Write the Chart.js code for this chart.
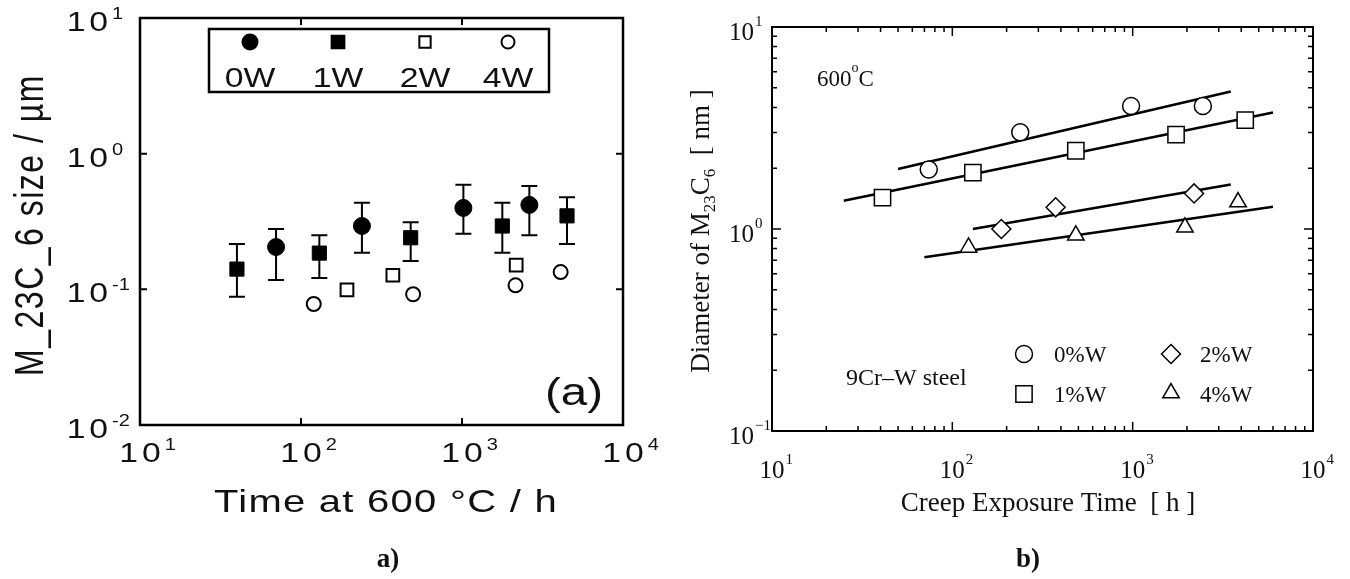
<!DOCTYPE html>
<html>
<head>
<meta charset="utf-8">
<title>M23C6 carbide size</title>
<script src="https://cdn.jsdelivr.net/npm/chart.js@4.4.1/dist/chart.umd.min.js"></script>
<style>
  html, body { margin: 0; padding: 0; background: #fff; }
  #page { position: relative; width: 1350px; height: 579px; overflow: hidden; }
  canvas { position: absolute; top: 0; width: 675px; height: 579px; }
  #chartA { left: 0; }
  #chartB { left: 675px; }
</style>
</head>
<body>
<div id="page">
  <canvas id="chartA" width="675" height="579"></canvas>
  <canvas id="chartB" width="675" height="579"></canvas>
</div>
<script>
// (a) M23C6 size vs time at 600 C, with error bars for 0W / 1W
const time0W = [70, 239, 1020, 2620];
const size0W = [0.205, 0.293, 0.398, 0.419];
const low0W = [0.117, 0.186, 0.257, 0.25];
const high0W = [0.278, 0.434, 0.589, 0.578];
const time1W = [40, 130, 480, 1780, 4490];
const size1W = [0.141, 0.185, 0.24, 0.293, 0.348];
const low1W = [0.088, 0.121, 0.162, 0.186, 0.216];
const high1W = [0.216, 0.25, 0.312, 0.434, 0.478];
const time2W = [193, 372, 2170];
const size2W = [0.099, 0.127, 0.151];
const time4W = [120, 497, 2150, 4100];
const size4W = [0.078, 0.092, 0.107, 0.134];
const legendA = ['0W', '1W', '2W', '4W'];

// (b) diameter vs creep exposure time, 9Cr-W steel
const creep0 = [74, 238, 980, 2450];
const diam0 = [1.97, 3.01, 4.06, 4.06];
const creep1 = [41, 130, 484, 1740, 4210];
const diam1 = [1.43, 1.9, 2.44, 2.93, 3.46];
const creep2 = [187, 374, 2190];
const diam2 = [1.0, 1.28, 1.5];
const creep4 = [123, 484, 1950, 3840];
const diam4 = [0.81, 0.93, 1.02, 1.36];
const fitTime0 = [50, 3500];
const fitDiam0 = [1.98, 4.79];
const fitTime1 = [25, 6000];
const fitDiam1 = [1.38, 3.77];
const fitTime2 = [130, 3500];
const fitDiam2 = [1.0, 1.66];
const fitTime4 = [70, 6000];
const fitDiam4 = [0.724, 1.29];
const legendB = ['0%W', '1%W', '2%W', '4%W'];

// axis ticks
const decadesX = [10, 100, 1000, 10000];
const expX = ['1', '2', '3', '4'];
const decadesYA = [0.01, 0.1, 1, 10];
const expYA = ['-2', '-1', '0', '1'];
const decadesYB = [0.1, 1, 10];
const expYB = ['\u22121', '0', '1'];

const INK = '#111';
const SANS = '"Liberation Sans", Arial, sans-serif';
const SERIF = '"Liberation Serif", "Times New Roman", serif';
const STRETCH_A = 1.25; // lettering on (a) is set wide

function pts(xs, ys) {
  return xs.map((x, i) => ({ x, y: ys[i] }));
}

function drawText(ctx, str, x, y, o) {
  ctx.save();
  ctx.translate(x, y);
  ctx.scale(o.sx || 1, 1);
  if (o.rotate) ctx.rotate(-Math.PI / 2);
  ctx.font = o.font;
  ctx.letterSpacing = (o.sp || 0) + 'px';
  ctx.textAlign = o.align || 'left';
  ctx.textBaseline = o.baseline || 'alphabetic';
  ctx.fillStyle = INK;
  ctx.fillText(str, 0, 0);
  ctx.restore();
}

// "10" with a raised exponent
function powLabel(ctx, exp, x, y, o) {
  const k = o.sx || 1;
  ctx.save();
  ctx.font = o.base;
  const bw = (ctx.measureText('10').width + (o.sp || 0)) * k;
  ctx.restore();
  const x0 = o.align === 'baseRight' ? x - bw : x - bw / 2;
  drawText(ctx, '10', x0, y, { font: o.base, sx: k, sp: o.sp });
  drawText(ctx, exp, x0 + bw + o.gap, y - o.rise, { font: o.sup, sx: k });
}

function marker(ctx, style, x, y, radius, filled, lw) {
  ctx.save();
  ctx.fillStyle = filled ? '#000' : '#fff';
  ctx.strokeStyle = '#000';
  ctx.lineWidth = lw;
  Chart.helpers.drawPoint(ctx, { pointStyle: style, radius, borderWidth: lw, rotation: 0 }, x, y);
  ctx.restore();
}

const errorBars = {
  id: 'errorBars',
  beforeDatasetsDraw(chart) {
    const { ctx, scales: { x, y } } = chart;
    ctx.save();
    ctx.strokeStyle = '#000';
    ctx.lineWidth = 2;
    chart.data.datasets.forEach((ds) => {
      if (!ds.errLow) return;
      ds.data.forEach((p, i) => {
        const px = x.getPixelForValue(p.x);
        const top = y.getPixelForValue(ds.errHigh[i]);
        const bottom = y.getPixelForValue(ds.errLow[i]);
        ctx.beginPath();
        ctx.moveTo(px, top); ctx.lineTo(px, bottom);
        ctx.moveTo(px - 8, top); ctx.lineTo(px + 8, top);
        ctx.moveTo(px - 8, bottom); ctx.lineTo(px + 8, bottom);
        ctx.stroke();
      });
    });
    ctx.restore();
  }
};

const frameA = {
  id: 'frameA',
  afterDraw(chart) {
    const { ctx, chartArea: a, scales: { x, y } } = chart;
    ctx.save();
    ctx.strokeStyle = '#000';
    ctx.lineWidth = 2.5;
    ctx.strokeRect(a.left, a.top, a.right - a.left, a.bottom - a.top);
    ctx.lineWidth = 2;
    ctx.beginPath();
    decadesX.forEach((v) => {
      const px = x.getPixelForValue(v);
      ctx.moveTo(px, a.top); ctx.lineTo(px, a.top + 7);
      ctx.moveTo(px, a.bottom); ctx.lineTo(px, a.bottom - 7);
    });
    decadesYA.forEach((v) => {
      const py = y.getPixelForValue(v);
      ctx.moveTo(a.left, py); ctx.lineTo(a.left + 7, py);
      ctx.moveTo(a.right, py); ctx.lineTo(a.right - 7, py);
    });
    ctx.stroke();

    const lab = { base: `27px ${SANS}`, sup: `16px ${SANS}`, sx: STRETCH_A, sp: 3, gap: 4, rise: 12 };
    decadesX.forEach((v, i) => {
      powLabel(ctx, expX[i], x.getPixelForValue(v), a.bottom + 37, { ...lab, align: 'baseCenter' });
    });
    decadesYA.forEach((v, i) => {
      powLabel(ctx, expYA[i], a.left - 32, y.getPixelForValue(v) + 13, { ...lab, align: 'baseRight' });
    });

    drawText(ctx, 'Time at 600 \u00b0C / h', 386, 512,
      { font: `32px ${SANS}`, sx: STRETCH_A, sp: 1, align: 'center' });
    drawText(ctx, 'M_23C_6 size / \u00b5m', 43, 225,
      { font: `32px ${SANS}`, sx: STRETCH_A, sp: 1.5, align: 'center', rotate: true });
    drawText(ctx, '(a)', 603, 405, { font: `38px ${SANS}`, sx: STRETCH_A, align: 'right' });

    // legend box
    ctx.lineWidth = 2.5;
    ctx.strokeRect(209, 29, 340, 63);
    const slots = [250, 338, 425, 508];
    const styles = [['circle', 7.5, true], ['rect', 9, true], ['rect', 8, false], ['circle', 6.5, false]];
    legendA.forEach((name, i) => {
      marker(ctx, styles[i][0], slots[i], 42, styles[i][1], styles[i][2], 2);
      drawText(ctx, name, slots[i], 87, { font: `27px ${SANS}`, sx: STRETCH_A, align: 'center' });
    });

    drawText(ctx, 'a)', 388, 567, { font: `bold 27px ${SERIF}`, align: 'center' });
    ctx.restore();
  }
};

const frameB = {
  id: 'frameB',
  afterDraw(chart) {
    const { ctx, chartArea: a, scales: { x, y } } = chart;
    ctx.save();
    ctx.strokeStyle = '#000';
    ctx.lineWidth = 2;
    ctx.strokeRect(a.left, a.top, a.right - a.left, a.bottom - a.top);
    ctx.lineWidth = 1.5;
    ctx.beginPath();
    const minors = [2, 3, 4, 5, 6, 7, 8, 9];
    decadesX.forEach((v, d) => {
      const px = x.getPixelForValue(v);
      ctx.moveTo(px, a.top); ctx.lineTo(px, a.top + 9);
      ctx.moveTo(px, a.bottom); ctx.lineTo(px, a.bottom - 9);
      if (d === decadesX.length - 1) return;
      minors.forEach((m) => {
        const qx = x.getPixelForValue(v * m);
        ctx.moveTo(qx, a.top); ctx.lineTo(qx, a.top + 5);
        ctx.moveTo(qx, a.bottom); ctx.lineTo(qx, a.bottom - 5);
      });
    });
    decadesYB.forEach((v, d) => {
      const py = y.getPixelForValue(v);
      ctx.moveTo(a.left, py); ctx.lineTo(a.left + 9, py);
      ctx.moveTo(a.right, py); ctx.lineTo(a.right - 9, py);
      if (d === decadesYB.length - 1) return;
      minors.forEach((m) => {
        const qy = y.getPixelForValue(v * m);
        ctx.moveTo(a.left, qy); ctx.lineTo(a.left + 5, qy);
        ctx.moveTo(a.right, qy); ctx.lineTo(a.right - 5, qy);
      });
    });
    ctx.stroke();

    const lab = { base: `25px ${SERIF}`, sup: `15px ${SERIF}`, sp: 0, gap: 1, rise: 14 };
    decadesX.forEach((v, i) => {
      powLabel(ctx, expX[i], x.getPixelForValue(v), a.bottom + 47, { ...lab, align: 'baseCenter' });
    });
    decadesYB.forEach((v, i) => {
      powLabel(ctx, expYB[i], a.left - 18, y.getPixelForValue(v) + 13, { ...lab, align: 'baseRight' });
    });

    drawText(ctx, 'Creep Exposure Time  [ h ]', 373, 511, { font: `27px ${SERIF}`, align: 'center' });

    // y title with subscripts, written bottom to top
    const main = `27px ${SERIF}`;
    const sub = `17px ${SERIF}`;
    const parts = [['Diameter of M', main, 0], ['23', sub, 6], ['C', main, 0], ['6', sub, 6], ['  [ nm ]', main, 0]];
    ctx.save();
    let total = 0;
    parts.forEach((p) => { ctx.font = p[1]; p.push(ctx.measureText(p[0]).width); total += p[3]; });
    ctx.translate(34, 231);
    ctx.rotate(-Math.PI / 2);
    ctx.fillStyle = INK;
    ctx.textBaseline = 'alphabetic';
    let u = -total / 2;
    parts.forEach((p) => {
      ctx.font = p[1];
      ctx.fillText(p[0], u, p[2]);
      u += p[3];
    });
    ctx.restore();

    // 600 C note and steel label
    drawText(ctx, '600', 142, 86, { font: `23px ${SERIF}` });
    ctx.font = `23px ${SERIF}`;
    const w600 = ctx.measureText('600').width;
    drawText(ctx, 'o', 142 + w600, 72, { font: `14px ${SERIF}` });
    drawText(ctx, 'C', 142 + w600 + 7, 86, { font: `23px ${SERIF}` });
    drawText(ctx, '9Cr\u2013W steel', 171, 385, { font: `24px ${SERIF}` });

    // legend
    const spots = [[349, 354, 379, 362], [349, 394, 379, 402], [496, 354, 525, 362], [496, 393, 525, 402]];
    const styles = [['circle', 8.5], ['rect', 11.5], ['rectRot', 9.5], ['triangle', 9.5]];
    legendB.forEach((name, i) => {
      const s = spots[i];
      marker(ctx, styles[i][0], s[0], s[1], styles[i][1], false, 1.5);
      drawText(ctx, name, s[2], s[3], { font: `23px ${SERIF}` });
    });

    drawText(ctx, 'b)', 353, 567, { font: `bold 27px ${SERIF}`, align: 'center' });
    ctx.restore();
  }
};

const logX = { type: 'logarithmic', min: 10, max: 10000, display: false };

new Chart(document.getElementById('chartA'), {
  type: 'scatter',
  data: {
    datasets: [
      { label: '0W', data: pts(time0W, size0W), errLow: low0W, errHigh: high0W,
        pointStyle: 'circle', pointRadius: 8.5, pointBackgroundColor: '#000', pointBorderColor: '#000', pointBorderWidth: 1 },
      { label: '1W', data: pts(time1W, size1W), errLow: low1W, errHigh: high1W,
        pointStyle: 'rect', pointRadius: 10, pointBackgroundColor: '#000', pointBorderColor: '#000', pointBorderWidth: 1 },
      { label: '2W', data: pts(time2W, size2W),
        pointStyle: 'rect', pointRadius: 9, pointBackgroundColor: '#fff', pointBorderColor: '#000', pointBorderWidth: 2 },
      { label: '4W', data: pts(time4W, size4W),
        pointStyle: 'circle', pointRadius: 7, pointBackgroundColor: '#fff', pointBorderColor: '#000', pointBorderWidth: 2 }
    ]
  },
  options: {
    responsive: false,
    animation: false,
    layout: { padding: { left: 140, top: 18, right: 52, bottom: 154 } },
    plugins: { legend: { display: false }, tooltip: { enabled: false } },
    scales: {
      x: logX,
      y: { type: 'logarithmic', min: 0.01, max: 10, display: false }
    }
  },
  plugins: [errorBars, frameA]
});

function fitLine(label, xs, ys) {
  return { label, data: pts(xs, ys), showLine: true, pointRadius: 0,
    borderColor: '#000', borderWidth: 2.5, order: 2 };
}

function openMarks(label, xs, ys, style, radius) {
  return { label, data: pts(xs, ys), pointStyle: style, pointRadius: radius,
    pointBackgroundColor: '#fff', pointBorderColor: '#000', pointBorderWidth: 1.5, order: 1 };
}

new Chart(document.getElementById('chartB'), {
  type: 'scatter',
  data: {
    datasets: [
      openMarks('0%W', creep0, diam0, 'circle', 8.5),
      openMarks('1%W', creep1, diam1, 'rect', 11.5),
      openMarks('2%W', creep2, diam2, 'rectRot', 9.5),
      openMarks('4%W', creep4, diam4, 'triangle', 9.5),
      fitLine('0%W fit', fitTime0, fitDiam0),
      fitLine('1%W fit', fitTime1, fitDiam1),
      fitLine('2%W fit', fitTime2, fitDiam2),
      fitLine('4%W fit', fitTime4, fitDiam4)
    ]
  },
  options: {
    responsive: false,
    animation: false,
    layout: { padding: { left: 97, top: 27, right: 37, bottom: 148 } },
    plugins: { legend: { display: false }, tooltip: { enabled: false } },
    scales: {
      x: logX,
      y: { type: 'logarithmic', min: 0.1, max: 10, display: false }
    }
  },
  plugins: [frameB]
});
</script>
</body>
</html>
